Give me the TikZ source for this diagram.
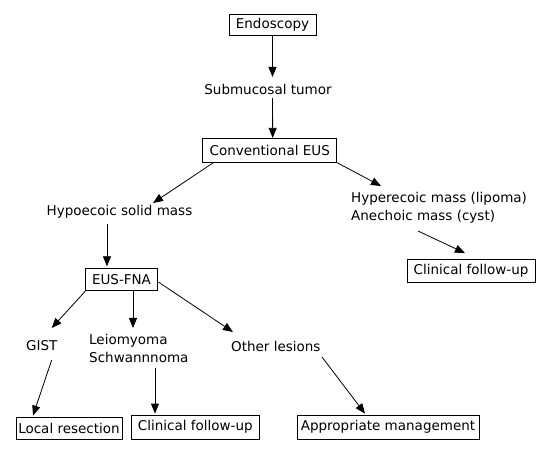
\documentclass[tikz,border=0pt]{standalone}
\usepackage{fontspec}
\setmainfont{DejaVu Sans}
\usetikzlibrary{arrows.meta,calc}
\begin{document}
\begin{tikzpicture}[x=1pt,y=-1pt,
  every node/.style={font=\fontsize{13.5}{18}\selectfont},
  box/.style={draw,line width=0.8pt,inner sep=0pt,minimum height=22pt},
  lbl/.style={inner sep=0pt,align=left},
  arr/.style={-{Triangle[length=10pt,width=8pt]},line width=0.8pt}]
\useasboundingbox[fill=white] (0,0) rectangle (549,454);
% boxes
\node[box,minimum width=87pt,minimum height=21pt] (endo) at (272.5,24.5) {Endoscopy};
\node[box,minimum width=134pt,minimum height=24pt] (conv) at (269.7,150.3) {Conventional EUS};
\node[box,minimum width=128pt,minimum height=23pt] (cfuA) at (471,270.5) {Clinical follow-up};
\node[box,minimum width=71.6pt,minimum height=22.5pt] (fna) at (121.5,279.5) {EUS-FNA};
\node[box,minimum width=106pt,minimum height=22pt] (locres) at (69,428) {Local resection};
\node[box,minimum width=127.5pt,minimum height=24pt] (cfuB) at (195.3,427) {Clinical follow-up};
\node[box,minimum width=182pt,minimum height=24pt] (appr) at (388,427) {Appropriate management};
% labels
\node[lbl] (sub) at (268,89) {Submucosal tumor};
\node[lbl] (hypo) at (119.5,212) {Hypoecoic solid mass};
\node[lbl,anchor=west] (hyper) at (351,208) {Hyperecoic mass (lipoma)\\Anechoic mass (cyst)};
\node[lbl] (gist) at (41.7,346) {GIST};
\node[lbl,anchor=west] (leio) at (89,348) {Leiomyoma\\Schwannnoma};
\node[lbl,anchor=west] (other) at (231,346) {Other lesions};
% connectors
\draw[arr] (endo.south) -- ($(sub)+(4.5,-12)$);
\draw[arr] ($(sub)+(4.5,9)$) -- ($(conv.north)+(3,0)$);
\draw[arr] ($(conv.south)+(-56.4,0)$) -- ($(hypo)+(33.5,-9)$);
\draw[arr] (conv.south east) -- ($(hyper.west)+(30,-22)$);
\draw[arr] ($(hyper.west)+(67,23)$) -- ($(cfuA.north)+(-6,-5.5)$);
\draw[arr] ($(hypo)+(-12.5,12)$) -- ($(fna.north)+(-14.5,-1.5)$);
\draw[arr] (fna.south west) -- ($(gist)+(10,-18)$);
\draw[arr] ($(fna.south)+(11.5,0)$) -- ($(leio.west)+(44,-20)$);
\draw[arr] ($(fna.east)+(0.7,2.5)$) -- ($(other.west)+(2,-14)$);
\draw[arr] ($(gist)+(10,14)$) -- ($(locres.north)+(-36,-1)$);
\draw[arr] ($(leio.west)+(66,20)$) -- ($(cfuB.north)+(-40.3,-1)$);
\draw[arr] ($(other.west)+(91,11)$) -- ($(appr.north)+(-23,-1)$);
\end{tikzpicture}
\end{document}
